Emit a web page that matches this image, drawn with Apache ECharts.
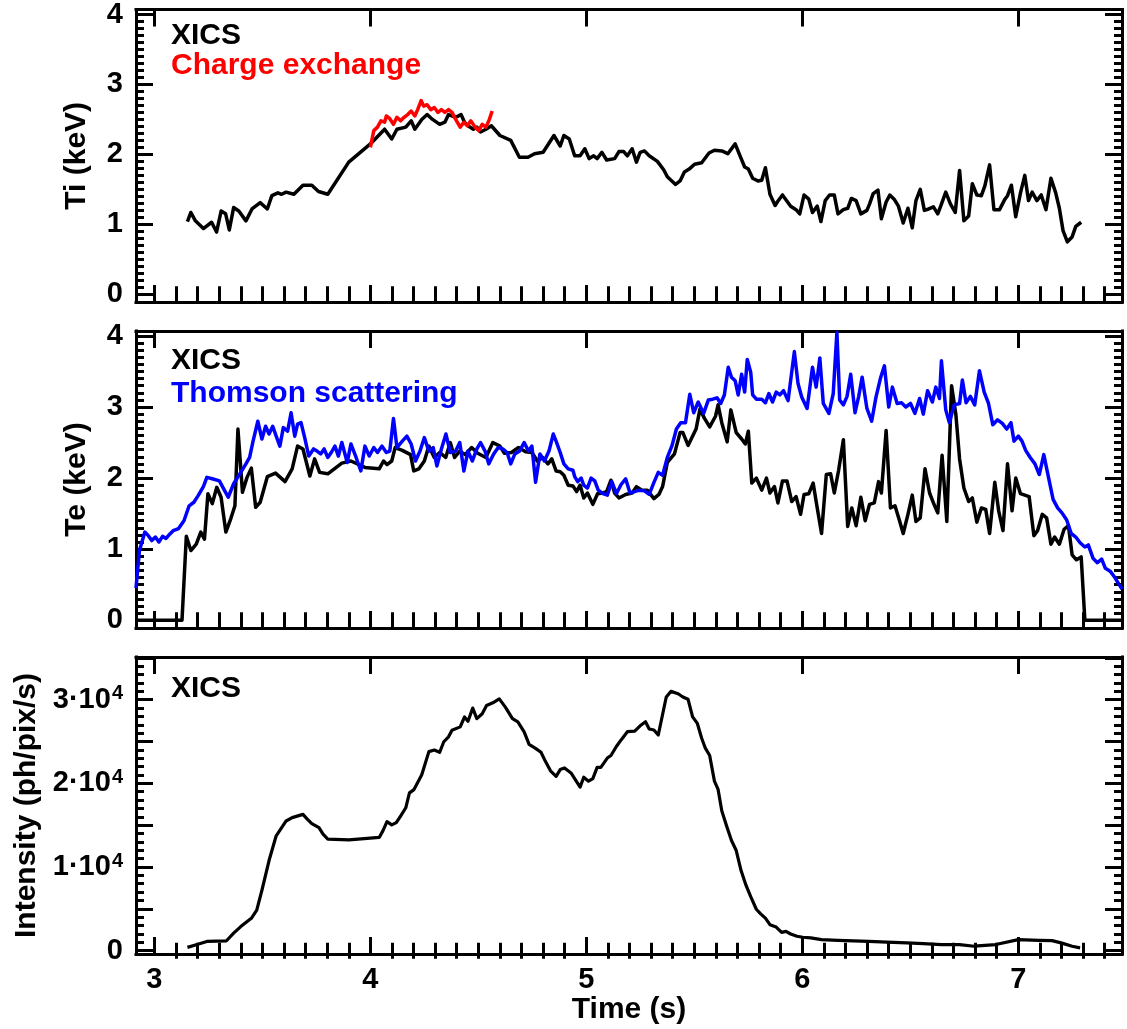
<!DOCTYPE html>
<html>
<head>
<meta charset="utf-8">
<title>XICS Ti / Te / intensity</title>
<script src="https://cdn.jsdelivr.net/npm/echarts@6/dist/echarts.min.js"></script>
<style>
  html, body { margin: 0; padding: 0; background: #fff; }
  #main { width: 1127px; height: 1029px; }
</style>
</head>
<body>
<div id="main"></div>
<script>
// ---- data: [time (s), value] ----
const tiXics = [[3.153,1.04],[3.169,1.17],[3.19,1.05],[3.227,0.94],[3.265,1.03],[3.288,0.89],[3.309,1.19],[3.33,1.15],[3.347,0.92],[3.367,1.24],[3.391,1.19],[3.424,1.05],[3.452,1.22],[3.49,1.31],[3.523,1.22],[3.544,1.41],[3.572,1.45],[3.589,1.43],[3.61,1.46],[3.646,1.43],[3.688,1.56],[3.729,1.56],[3.76,1.47],[3.803,1.43],[3.9,1.89],[4.0,2.15],[4.066,2.36],[4.099,2.22],[4.123,2.36],[4.164,2.39],[4.189,2.48],[4.206,2.36],[4.238,2.5],[4.263,2.57],[4.288,2.5],[4.321,2.43],[4.345,2.46],[4.362,2.57],[4.395,2.53],[4.42,2.57],[4.436,2.46],[4.452,2.41],[4.477,2.36],[4.493,2.39],[4.51,2.32],[4.535,2.36],[4.56,2.41],[4.6,2.27],[4.65,2.2],[4.69,1.96],[4.73,1.96],[4.76,2.01],[4.8,2.03],[4.85,2.27],[4.879,2.12],[4.896,2.27],[4.921,2.22],[4.946,1.98],[4.971,1.98],[4.993,2.08],[5.013,1.94],[5.034,1.98],[5.05,1.94],[5.072,2.03],[5.094,1.92],[5.131,1.94],[5.151,2.04],[5.173,2.04],[5.19,1.98],[5.212,2.08],[5.232,1.89],[5.249,2.03],[5.269,2.05],[5.291,1.98],[5.329,1.9],[5.358,1.78],[5.375,1.68],[5.413,1.57],[5.434,1.62],[5.454,1.75],[5.476,1.79],[5.501,1.86],[5.534,1.88],[5.568,2.02],[5.593,2.06],[5.627,2.05],[5.655,2.01],[5.689,2.15],[5.714,1.96],[5.733,1.82],[5.75,1.79],[5.77,1.66],[5.795,1.62],[5.812,1.63],[5.829,1.81],[5.85,1.43],[5.874,1.27],[5.884,1.32],[5.908,1.42],[5.946,1.26],[5.971,1.21],[5.988,1.15],[6.008,1.42],[6.03,1.36],[6.047,1.17],[6.069,1.26],[6.086,1.04],[6.106,1.34],[6.126,1.42],[6.148,1.42],[6.165,1.15],[6.19,1.21],[6.21,1.23],[6.227,1.37],[6.249,1.34],[6.271,1.15],[6.299,1.2],[6.311,1.29],[6.328,1.44],[6.35,1.49],[6.366,1.08],[6.388,1.32],[6.405,1.42],[6.425,1.36],[6.445,1.26],[6.467,1.02],[6.489,1.23],[6.509,0.95],[6.526,1.34],[6.546,1.5],[6.565,1.2],[6.585,1.22],[6.607,1.25],[6.627,1.15],[6.644,1.29],[6.664,1.46],[6.686,1.29],[6.708,1.17],[6.728,1.77],[6.748,1.05],[6.77,1.12],[6.787,1.58],[6.808,1.42],[6.829,1.41],[6.845,1.55],[6.867,1.85],[6.887,1.21],[6.913,1.21],[6.938,1.36],[6.95,1.41],[6.968,1.56],[6.988,1.11],[7.01,1.45],[7.03,1.7],[7.047,1.34],[7.064,1.46],[7.086,1.34],[7.106,1.42],[7.128,1.21],[7.151,1.66],[7.173,1.45],[7.19,1.23],[7.207,0.91],[7.227,0.75],[7.249,0.82],[7.266,0.97],[7.291,1.03]];

const tiCx = [[4.0,2.1],[4.016,2.34],[4.033,2.39],[4.049,2.48],[4.066,2.46],[4.074,2.55],[4.09,2.51],[4.107,2.43],[4.123,2.53],[4.14,2.48],[4.156,2.53],[4.173,2.57],[4.189,2.62],[4.206,2.55],[4.219,2.64],[4.235,2.77],[4.247,2.69],[4.263,2.71],[4.28,2.64],[4.296,2.67],[4.313,2.6],[4.329,2.64],[4.345,2.6],[4.362,2.64],[4.378,2.6],[4.395,2.5],[4.416,2.39],[4.433,2.46],[4.449,2.41],[4.465,2.48],[4.485,2.39],[4.502,2.34],[4.518,2.43],[4.535,2.39],[4.551,2.5],[4.564,2.62]];

const teXics = [[2.915,0],[3.0,0],[3.128,0],[3.148,1.18],[3.169,0.98],[3.194,1.07],[3.215,1.24],[3.232,1.14],[3.248,1.78],[3.268,1.64],[3.289,1.87],[3.309,1.73],[3.331,1.24],[3.354,1.43],[3.373,1.61],[3.387,2.69],[3.408,1.8],[3.429,2.01],[3.449,2.14],[3.469,1.59],[3.49,1.66],[3.523,2.02],[3.561,2.07],[3.605,1.95],[3.638,2.13],[3.663,2.45],[3.688,2.41],[3.72,2.03],[3.742,2.27],[3.765,2.08],[3.803,2.06],[3.868,2.21],[3.91,2.24],[3.975,2.15],[4.041,2.13],[4.061,2.24],[4.077,2.19],[4.099,2.24],[4.115,2.43],[4.148,2.39],[4.186,2.33],[4.201,2.1],[4.225,2.13],[4.25,2.24],[4.271,2.45],[4.296,2.29],[4.321,2.36],[4.349,2.29],[4.37,2.5],[4.39,2.29],[4.414,2.38],[4.439,2.33],[4.469,2.43],[4.497,2.35],[4.535,2.29],[4.567,2.5],[4.6,2.45],[4.62,2.35],[4.653,2.36],[4.686,2.43],[4.719,2.37],[4.748,2.36],[4.773,2.24],[4.798,2.29],[4.822,2.2],[4.84,2.27],[4.86,2.1],[4.879,2.09],[4.896,2.04],[4.916,1.9],[4.938,1.89],[4.955,1.81],[4.971,1.9],[4.988,1.72],[5.005,1.79],[5.013,1.77],[5.03,1.63],[5.052,1.78],[5.077,1.79],[5.094,1.81],[5.114,1.97],[5.131,1.79],[5.151,1.72],[5.182,1.77],[5.212,1.79],[5.232,1.88],[5.257,1.83],[5.282,1.83],[5.313,1.71],[5.336,1.77],[5.353,1.88],[5.375,2.22],[5.408,2.34],[5.434,2.64],[5.447,2.64],[5.471,2.46],[5.508,2.69],[5.526,2.97],[5.547,2.84],[5.571,2.72],[5.598,2.87],[5.61,3.03],[5.627,2.78],[5.652,2.51],[5.669,2.96],[5.694,2.64],[5.719,2.55],[5.736,2.48],[5.75,2.66],[5.766,1.93],[5.787,2.0],[5.812,1.83],[5.834,2.0],[5.85,1.79],[5.871,1.88],[5.887,1.65],[5.908,1.96],[5.929,1.96],[5.951,1.67],[5.971,1.74],[5.992,1.49],[6.008,1.77],[6.03,1.78],[6.05,1.93],[6.069,1.58],[6.089,1.22],[6.111,2.05],[6.131,2.06],[6.148,1.79],[6.168,2.11],[6.19,2.54],[6.21,1.32],[6.229,1.58],[6.249,1.33],[6.271,1.73],[6.291,1.4],[6.311,1.63],[6.333,1.65],[6.353,1.95],[6.366,1.79],[6.388,2.67],[6.408,1.58],[6.429,1.61],[6.45,1.4],[6.467,1.22],[6.489,1.49],[6.509,1.76],[6.526,1.39],[6.546,1.44],[6.568,2.13],[6.589,1.79],[6.607,1.65],[6.627,1.51],[6.647,2.32],[6.669,1.39],[6.691,3.3],[6.711,2.89],[6.728,2.27],[6.748,1.86],[6.77,1.67],[6.787,1.72],[6.808,1.38],[6.829,1.58],[6.849,1.56],[6.867,1.22],[6.891,1.94],[6.909,1.54],[6.929,1.26],[6.95,2.2],[6.971,1.54],[6.988,2.0],[7.01,1.78],[7.05,1.74],[7.072,1.19],[7.089,1.26],[7.111,1.49],[7.131,1.44],[7.151,1.07],[7.168,1.17],[7.19,1.07],[7.212,1.28],[7.232,1.33],[7.249,0.92],[7.269,0.85],[7.291,0.89],[7.308,0],[7.4,0],[7.48,0]];

const teThomson = [[2.915,0.45],[2.931,0.98],[2.956,1.24],[2.972,1.19],[2.988,1.12],[3.005,1.17],[3.021,1.1],[3.038,1.18],[3.054,1.15],[3.071,1.21],[3.087,1.26],[3.112,1.29],[3.137,1.4],[3.161,1.61],[3.183,1.66],[3.202,1.75],[3.227,1.88],[3.243,2.01],[3.268,1.99],[3.301,1.96],[3.326,1.82],[3.342,1.73],[3.367,1.92],[3.4,2.08],[3.424,2.2],[3.441,2.29],[3.457,2.52],[3.479,2.8],[3.498,2.55],[3.515,2.73],[3.531,2.62],[3.548,2.73],[3.564,2.59],[3.581,2.45],[3.597,2.71],[3.617,2.66],[3.633,2.92],[3.65,2.59],[3.663,2.76],[3.679,2.78],[3.696,2.57],[3.715,2.31],[3.737,2.41],[3.753,2.38],[3.77,2.34],[3.786,2.41],[3.803,2.29],[3.819,2.36],[3.836,2.45],[3.852,2.31],[3.868,2.5],[3.893,2.22],[3.91,2.48],[3.934,2.29],[3.956,2.1],[3.975,2.45],[3.995,2.31],[4.016,2.43],[4.033,2.36],[4.054,2.45],[4.074,2.36],[4.09,2.38],[4.107,2.84],[4.123,2.43],[4.148,2.52],[4.169,2.59],[4.189,2.48],[4.209,2.24],[4.23,2.38],[4.25,2.57],[4.271,2.38],[4.291,2.43],[4.308,2.17],[4.329,2.41],[4.35,2.62],[4.37,2.36],[4.395,2.38],[4.414,2.5],[4.433,2.1],[4.452,2.38],[4.472,2.24],[4.493,2.41],[4.51,2.5],[4.531,2.38],[4.548,2.2],[4.571,2.34],[4.592,2.43],[4.613,2.41],[4.633,2.36],[4.65,2.2],[4.669,2.34],[4.691,2.38],[4.712,2.5],[4.732,2.38],[4.748,2.45],[4.765,1.94],[4.785,2.34],[4.806,2.24],[4.827,2.38],[4.847,2.62],[4.86,2.52],[4.879,2.36],[4.896,2.2],[4.916,2.13],[4.938,2.11],[4.946,2.02],[4.96,1.95],[4.976,2.0],[4.988,1.9],[5.005,1.86],[5.022,2.0],[5.039,1.96],[5.055,1.83],[5.077,1.78],[5.097,1.76],[5.118,1.95],[5.139,1.78],[5.161,1.91],[5.182,1.99],[5.202,1.79],[5.224,1.81],[5.245,1.83],[5.269,1.82],[5.291,1.77],[5.313,1.94],[5.333,2.08],[5.353,2.04],[5.375,2.29],[5.397,2.46],[5.417,2.69],[5.437,2.78],[5.459,2.78],[5.479,3.18],[5.497,2.92],[5.518,3.07],[5.543,2.91],[5.565,3.1],[5.585,3.11],[5.605,3.13],[5.622,3.05],[5.639,3.17],[5.657,3.56],[5.672,3.42],[5.689,3.37],[5.703,3.17],[5.719,3.46],[5.733,3.21],[5.745,3.67],[5.761,3.49],[5.77,3.17],[5.787,3.11],[5.812,3.11],[5.829,3.06],[5.845,3.19],[5.862,3.07],[5.879,3.21],[5.896,3.17],[5.913,3.23],[5.934,3.09],[5.963,3.78],[5.98,3.33],[5.997,3.14],[6.022,2.98],[6.047,3.56],[6.064,3.28],[6.081,3.69],[6.097,3.05],[6.123,2.91],[6.143,3.19],[6.16,4.05],[6.173,3.1],[6.19,3.03],[6.207,3.15],[6.224,3.46],[6.244,2.92],[6.261,3.15],[6.277,3.42],[6.299,2.98],[6.321,2.8],[6.341,3.14],[6.363,3.42],[6.38,3.58],[6.4,3.0],[6.417,3.28],[6.439,3.05],[6.459,3.06],[6.479,3.0],[6.501,3.05],[6.521,2.91],[6.543,3.12],[6.56,2.9],[6.58,3.23],[6.602,3.07],[6.618,3.28],[6.635,3.12],[6.644,3.65],[6.664,2.96],[6.681,2.78],[6.703,3.03],[6.728,3.05],[6.741,3.38],[6.758,3.06],[6.778,3.15],[6.798,3.03],[6.82,3.51],[6.842,3.21],[6.862,3.05],[6.882,2.75],[6.904,2.82],[6.926,2.77],[6.946,2.69],[6.966,2.78],[6.98,2.52],[7.0,2.59],[7.017,2.52],[7.034,2.39],[7.055,2.29],[7.077,2.2],[7.097,2.05],[7.118,2.33],[7.139,2.02],[7.161,1.7],[7.182,1.58],[7.202,1.51],[7.224,1.41],[7.245,1.22],[7.266,1.17],[7.286,1.09],[7.308,1.03],[7.324,1.06],[7.346,0.87],[7.366,0.81],[7.386,0.86],[7.403,0.73],[7.425,0.69],[7.447,0.6],[7.467,0.5],[7.48,0.44]];

const intensityXics = [[3.153,390],[3.194,710],[3.243,1100],[3.334,1180],[3.367,2090],[3.4,2880],[3.449,3870],[3.474,4850],[3.498,7220],[3.531,10770],[3.564,13730],[3.61,15500],[3.638,15900],[3.688,16290],[3.709,15700],[3.729,15190],[3.762,14710],[3.781,13920],[3.803,13330],[3.901,13250],[4.041,13530],[4.058,14320],[4.077,15420],[4.099,15030],[4.12,15300],[4.14,16090],[4.164,17080],[4.181,18860],[4.202,19250],[4.238,21030],[4.271,23790],[4.296,23980],[4.321,23710],[4.34,24970],[4.362,25560],[4.378,26350],[4.416,26750],[4.436,27930],[4.452,27420],[4.474,28990],[4.493,27730],[4.518,28320],[4.538,29310],[4.567,29630],[4.597,30100],[4.625,29110],[4.658,27730],[4.683,27340],[4.712,26150],[4.735,24650],[4.765,24180],[4.79,23710],[4.811,22600],[4.834,21500],[4.86,20830],[4.879,21640],[4.899,21840],[4.929,21240],[4.971,19550],[4.988,20730],[5.01,20260],[5.03,20570],[5.05,21910],[5.067,21910],[5.097,23020],[5.114,23330],[5.139,24400],[5.161,25190],[5.19,26170],[5.224,26250],[5.249,26880],[5.274,27360],[5.291,26490],[5.313,26370],[5.333,25780],[5.37,30320],[5.392,30990],[5.425,30710],[5.447,30320],[5.471,30040],[5.492,27950],[5.514,27160],[5.534,25390],[5.551,24200],[5.571,23330],[5.593,20260],[5.61,19270],[5.627,16710],[5.649,14930],[5.672,13160],[5.694,11970],[5.716,9610],[5.739,7830],[5.761,6450],[5.787,4950],[5.807,4400],[5.829,3890],[5.85,3100],[5.879,2820],[5.904,2190],[5.924,2310],[5.946,1990],[5.975,1720],[6.002,1600],[6.039,1520],[6.089,1320],[6.165,1240],[6.308,1120],[6.392,1010],[6.484,930],[6.56,850],[6.644,730],[6.728,730],[6.795,530],[6.896,730],[7.0,1320],[7.097,1240],[7.156,1200],[7.198,930],[7.249,530],[7.286,340]];

// ---- axis ranges and ticks ----
const timeRange = [2.915, 7.48];
const tempRange = [-0.11, 4.07];
const intensityRange = [-400, 35100];
const timeTicks = [3, 4, 5, 6, 7];
const tempTicks = [0, 1, 2, 3, 4];
const intensityTicks = [0, 5000, 10000, 15000, 20000, 25000, 30000, 35000];
const intensityLabels = [0, 10000, 20000, 30000];

const timeMinor = [];
for (let i = 30; i <= 74; i++) if (i % 10) timeMinor.push(i / 10);
const tempMinor = [];
for (let i = 1; i < 40; i++) if (i % 10) tempMinor.push(i / 10);
const intensityMinor = [];
for (let i = 1; i < 35; i++) if (i % 5) intensityMinor.push(i * 1000);

const FONT = '"Liberation Sans", Arial, Helvetica, sans-serif';
const BLACK = '#000';

function axisPair(g, range, pos, major, minor, label, name) {
  const base = { type: 'value', gridIndex: g, min: range[0], max: range[1], position: pos, splitLine: { show: false } };
  const main = Object.assign({}, base, {
    axisLine: { show: true, onZero: false, lineStyle: { color: BLACK, width: 3, cap: 'square' } },
    axisTick: { show: true, inside: true, length: 17, customValues: major, lineStyle: { color: BLACK, width: 3 } },
    axisLabel: label ? Object.assign({ show: true, color: BLACK, fontFamily: FONT, fontWeight: 'bold', fontSize: 29 }, label) : { show: false }
  });
  if (name) Object.assign(main, name);
  const small = Object.assign({}, base, {
    axisLine: { show: false },
    axisTick: { show: true, inside: true, length: 8, customValues: minor, lineStyle: { color: BLACK, width: 3 } },
    axisLabel: { show: false }
  });
  return [main, small];
}

const nameStyle = { color: BLACK, fontFamily: FONT, fontWeight: 'bold', fontSize: 30 };

const grids = [
  { left: 136, right: 5, top: 5, height: 297 },
  { left: 136, right: 5, top: 331, height: 297 },
  { left: 136, right: 5, top: 657, height: 297 }
];

const xAxes = [];
const yAxes = [];
for (let g = 0; g < 3; g++) {
  const bottomLabel = g === 2 ? { margin: 11, customValues: timeTicks } : null;
  const bottomName = g === 2 ? { name: 'Time (s)', nameLocation: 'middle', nameGap: 36, nameTextStyle: nameStyle } : null;
  xAxes.push(...axisPair(g, timeRange, 'bottom', timeTicks, timeMinor, bottomLabel, bottomName));
  xAxes.push(...axisPair(g, timeRange, 'top', timeTicks, timeMinor, null, null));
}

// Ti and Te panels
[['Ti (keV)', 0], ['Te (keV)', 1]].forEach(function (p) {
  const g = p[1];
  yAxes.push(...axisPair(g, tempRange, 'left', tempTicks, tempMinor,
    { margin: 13, customValues: tempTicks },
    { name: p[0], nameLocation: 'middle', nameGap: 44, nameTextStyle: nameStyle }));
  yAxes.push(...axisPair(g, tempRange, 'right', tempTicks, tempMinor, null, null));
});
// intensity panel
yAxes.push(...axisPair(2, intensityRange, 'left', intensityTicks, intensityMinor,
  {
    margin: 13,
    customValues: intensityLabels,
    formatter: function (v) {
      if (v === 0) return '{m|0}';
      return '{m|' + Math.round(v / 10000) + '\u00b710}{s|4}';
    },
    rich: {
      m: { fontFamily: FONT, fontWeight: 'bold', fontSize: 29, color: BLACK, lineHeight: 32 },
      s: { fontFamily: FONT, fontWeight: 'bold', fontSize: 20, color: BLACK, verticalAlign: 'top', lineHeight: 32, padding: [0, 0, 12, 1] }
    }
  },
  { name: 'Intensity (ph/pix/s)', nameLocation: 'middle', nameGap: 92, nameTextStyle: nameStyle }));
yAxes.push(...axisPair(2, intensityRange, 'right', intensityTicks, intensityMinor, null, null));

function line(data, color, g, width) {
  return {
    type: 'line', data: data, xAxisIndex: g * 4, yAxisIndex: g * 4,
    showSymbol: false, symbol: 'none', clip: true,
    lineStyle: { color: color, width: width || 3.5, join: 'round' }, itemStyle: { color: color }
  };
}

const legendFont = 'bold 30px ' + FONT;
const option = {
  animation: false,
  backgroundColor: '#fff',
  grid: grids,
  xAxis: xAxes,
  yAxis: yAxes,
  series: [
    line(tiXics, BLACK, 0),
    line(tiCx, '#ff0000', 0),
    line(teXics, BLACK, 1),
    line(teThomson, '#0000ff', 1),
    line(intensityXics, BLACK, 2, 3.2)
  ],
  graphic: [
    { type: 'text', left: 171, top: 21, style: { text: 'XICS', fill: BLACK, font: legendFont } },
    { type: 'text', left: 171, top: 51, style: { text: 'Charge exchange', fill: '#ff0000', font: legendFont } },
    { type: 'text', left: 171, top: 346, style: { text: 'XICS', fill: BLACK, font: legendFont } },
    { type: 'text', left: 171, top: 379, style: { text: 'Thomson scattering', fill: '#0000ff', font: legendFont } },
    { type: 'text', left: 171, top: 674, style: { text: 'XICS', fill: BLACK, font: legendFont } }
  ]
};

const myChart = echarts.init(document.getElementById('main'), null, { renderer: 'canvas' });
myChart.setOption(option);
</script>
</body>
</html>
